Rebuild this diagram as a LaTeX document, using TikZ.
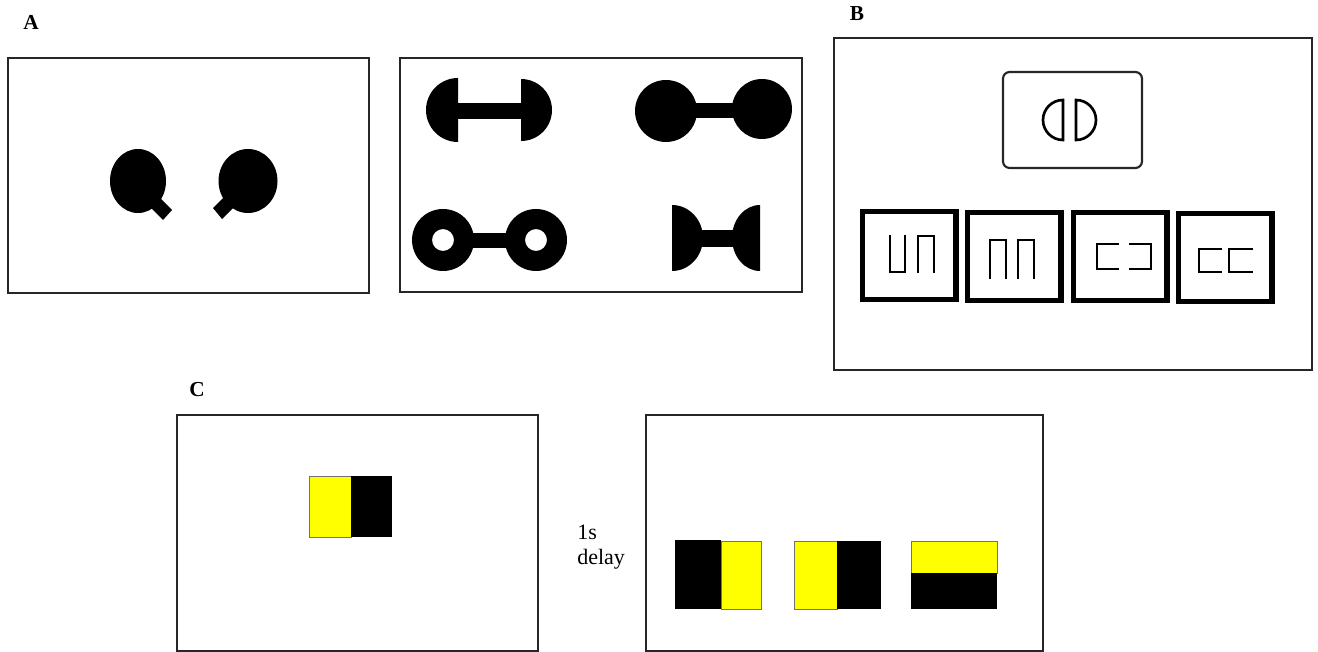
\documentclass[tikz,border=0pt]{standalone}
\usepackage{fontspec}
\setmainfont{Liberation Serif}
\usepackage{tikz}
\definecolor{StimYellow}{RGB}{255, 255, 0}
\tikzset{
  frame/.style={draw=black!85, line width=1.5pt},
  card/.style={draw=black!85, line width=1.6pt, rounded corners=5pt},
  glyph/.style={draw=black, line width=2pt},
  thickbox/.style={draw=black, line width=3.8pt},
  patch/.style={draw=black!55, line width=0.6pt},
  panellabel/.style={font=\fontsize{16}{19}\selectfont\bfseries, inner sep=0pt}
}

\begin{document}
\begin{tikzpicture}[x=0.75pt, y=-0.75pt]
  \useasboundingbox (0,0) rectangle (1318,652);

  % Panel labels
  \node[panellabel] (labA) at (31,22) {A};
  \node[panellabel] (labB) at (857,14) {B};
  \node[panellabel] (labC) at (197,390) {C};

  % Panel A, left frame (two tailed discs)
  \draw[frame] (8,58) rectangle (369,293);
  \fill (138,181) ellipse [x radius=28, y radius=32];
  \fill (143,200) -- (163,220) -- (172,210) -- (152,190) -- cycle;
  \fill (248,181) ellipse [x radius=29.5, y radius=32];
  \fill (233,188) -- (213,208) -- (222,219) -- (242,199) -- cycle;

  % Panel A, right frame (four dumbbells)
  \draw[frame] (400,58) rectangle (802,292);
  % half discs
  \fill (458,78) arc[start angle=270, end angle=90, radius=32] -- cycle;
  \fill (521,79) arc[start angle=-90, end angle=90, radius=31] -- cycle;
  \fill (457,103) rectangle (522,119);
  % full discs
  \fill (666,111) circle[radius=31];
  \fill (762,109) circle[radius=30];
  \fill (690,103) rectangle (740,118);
  % rings
  \fill[even odd rule] (443,240) circle[radius=31] (443,240) circle[radius=11]
    (536,240) circle[radius=31] (536,240) circle[radius=11];
  \fill (470,233) rectangle (510,248);
  % bow tie
  \fill (672,205) arc[start angle=-90, end angle=90, x radius=31, y radius=33] -- cycle;
  \fill (760,205) arc[start angle=270, end angle=90, x radius=28, y radius=33] -- cycle;
  \fill (700,230) rectangle (735,247);

  % Panel B, sample card
  \draw[frame] (834,38) rectangle (1312,370);
  \draw[card] (1003,72) rectangle (1142,168);
  \draw[glyph] (1063,100) arc[start angle=270, end angle=90, radius=20] -- cycle;
  \draw[glyph] (1076,100) arc[start angle=-90, end angle=90, radius=20] -- cycle;

  % Panel B, choice cards
  \foreach \xl/\yt in {862.5/211.5, 967.5/212.5, 1073.5/212.5, 1178.5/213.5}
    \draw[thickbox] (\xl,\yt) rectangle ++(93.5,88);
  \draw[glyph] (890,235) -- (890,272) -- (905,272) -- (905,235);
  \draw[glyph] (918,273) -- (918,236) -- (934,236) -- (934,273);
  \draw[glyph] (990,279) -- (990,240) -- (1006,240) -- (1006,279);
  \draw[glyph] (1018,279) -- (1018,240) -- (1034,240) -- (1034,279);
  \draw[glyph] (1119,244) -- (1097,244) -- (1097,269) -- (1119,269);
  \draw[glyph] (1129,244) -- (1151,244) -- (1151,269) -- (1129,269);
  \draw[glyph] (1222,249) -- (1199,249) -- (1199,272) -- (1222,272);
  \draw[glyph] (1253,249) -- (1229,249) -- (1229,272) -- (1253,272);

  % Panel C, sample
  \draw[frame] (177,415) rectangle (538,651);
  \filldraw[patch, fill=StimYellow] (309,476) rectangle (351,537);
  \fill (351,476) rectangle (392,537);

  % Delay
  \node[font=\fontsize{16.5}{18.75}\selectfont, align=left, anchor=north west,
    inner sep=0pt] (delay) at (577,525) {1s\\delay};

  % Panel C, test
  \draw[frame] (646,415) rectangle (1043,651);
  \fill (675,540) rectangle (721,609);
  \filldraw[patch, fill=StimYellow] (721,541) rectangle (761,609);
  \filldraw[patch, fill=StimYellow] (794,541) rectangle (837,609);
  \fill (837,541) rectangle (881,609);
  \filldraw[patch, fill=StimYellow] (911,541) rectangle (997,573);
  \fill (911,573) rectangle (997,609);
\end{tikzpicture}
\end{document}
